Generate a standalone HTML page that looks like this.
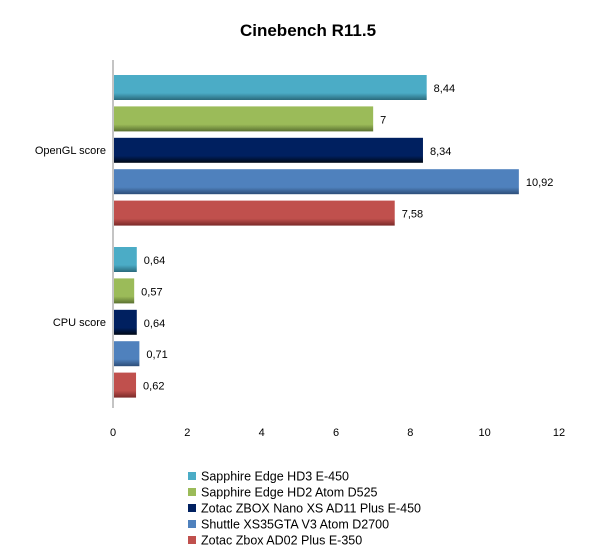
<!DOCTYPE html>
<html><head><meta charset="utf-8"><style>
body{margin:0;background:#fff;font-family:"Liberation Sans",sans-serif}
svg text{font-family:"Liberation Sans",sans-serif}
</style></head><body>
<svg id="c" width="600" height="549" xmlns="http://www.w3.org/2000/svg">
<defs></defs>
<text x="308" y="36" text-anchor="middle" font-size="17" font-weight="bold">Cinebench R11.5</text>
</svg>
<script>
const categories=["OpenGL score","CPU score"];
const seriesNames=["Sapphire Edge HD3 E-450","Sapphire Edge HD2 Atom D525","Zotac ZBOX Nano XS AD11  Plus E-450","Shuttle XS35GTA V3 Atom D2700","Zotac Zbox AD02 Plus E-350"];
const openglValues=[8.44,7,8.34,10.92,7.58];
const cpuValues=[0.64,0.57,0.64,0.71,0.62];
const valueLabels=[["8,44","7","8,34","10,92","7,58"],["0,64","0,57","0,64","0,71","0,62"]];
const ticks=[0,2,4,6,8,10,12];
const colors=["#4BACC6","#9BBB59","#002060","#4F81BD","#C0504D"];
const darks=["#2a6a7c","#5a7030","#000814","#2d4d78","#7a2a28"];
const svgEl=document.getElementById('c');const NS="http://www.w3.org/2000/svg";
const x0=113,x1=559,plotTop=64,band=172;
const xs=v=>x0+(v/12)*(x1-x0);
function el(t,a,p){const e=document.createElementNS(NS,t);for(const k in a)e.setAttribute(k,a[k]);(p||svgEl).appendChild(e);return e;}
const defsEl=svgEl.querySelector('defs');
colors.forEach((c,i)=>{const g=el('linearGradient',{id:'g'+i,x1:0,y1:0,x2:0,y2:1},defsEl);
el('stop',{offset:'0','stop-color':c},g);el('stop',{offset:'0.72','stop-color':c},g);el('stop',{offset:'1','stop-color':darks[i]},g);});
const axis=el('line',{x1:x0,y1:plotTop-4,x2:x0,y2:plotTop+2*band,stroke:'#888','stroke-width':1});


ticks.forEach(t=>{const tx=el('text',{x:xs(t),y:436,'text-anchor':'middle','font-size':11});tx.textContent=t;

});
const data=[openglValues,cpuValues];
categories.forEach((cat,ci)=>{const bs=plotTop+ci*band;
const lt=el('text',{x:106,y:bs+band/2+4,'text-anchor':'end','font-size':11});lt.textContent=cat;


data[ci].forEach((v,i)=>{const y=bs+11+i*31.4;
const r=el('rect',{x:x0+1,y:y,width:xs(v)-x0-1,height:25,fill:'url(#g'+i+')'});


const vt=el('text',{x:xs(v)+7,y:y+17,'font-size':11});vt.textContent=valueLabels[ci][i];

});});
seriesNames.forEach((n,i)=>{const y=476+i*16;
const s=el('rect',{x:188,y:y-4,width:8,height:8,fill:colors[i]});


const t=el('text',{x:201,y:y+4.5,'font-size':12.5});t.textContent=n;

});
</script>
</body></html>
